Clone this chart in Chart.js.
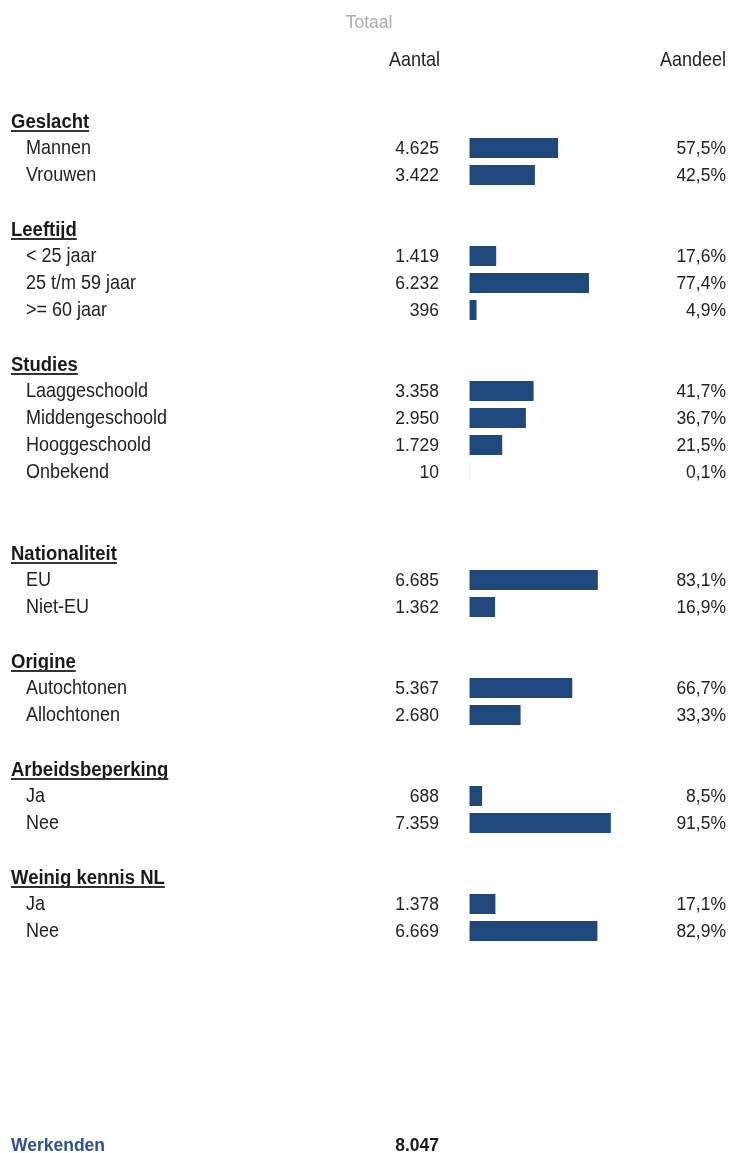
<!DOCTYPE html>
<html>
<head>
<meta charset="utf-8">
<script src="https://cdn.jsdelivr.net/npm/chart.js@4.4.1/dist/chart.umd.min.js"></script>
<style>
  html, body { margin: 0; padding: 0; background: #fff; }
  #wrap { width: 729px; height: 1153px; }
</style>
</head>
<body>
<div id="wrap"><canvas id="profiel" width="729" height="1153"></canvas></div>
<script>
// rows of the table, blank strings are spacer rows
var rowLabels = ['Geslacht', 'Mannen', 'Vrouwen', '',
  'Leeftijd', '< 25 jaar', '25 t/m 59 jaar', '>= 60 jaar', '',
  'Studies', 'Laaggeschoold', 'Middengeschoold', 'Hooggeschoold', 'Onbekend', '', '',
  'Nationaliteit', 'EU', 'Niet-EU', '',
  'Origine', 'Autochtonen', 'Allochtonen', '',
  'Arbeidsbeperking', 'Ja', 'Nee', '',
  'Weinig kennis NL', 'Ja', 'Nee'];
var counts = [null, 4625, 3422, null,
  null, 1419, 6232, 396, null,
  null, 3358, 2950, 1729, 10, null, null,
  null, 6685, 1362, null,
  null, 5367, 2680, null,
  null, 688, 7359, null,
  null, 1378, 6669];
var shares = [null, 57.5, 42.5, null,
  null, 17.6, 77.4, 4.9, null,
  null, 41.7, 36.7, 21.5, 0.1, null, null,
  null, 83.1, 16.9, null,
  null, 66.7, 33.3, null,
  null, 8.5, 91.5, null,
  null, 17.1, 82.9];
var columnTitle = 'Totaal';
var countHeader = 'Aantal';
var shareHeader = 'Aandeel';
var totalLabel = 'Werkenden';
var totalCount = 8047;

function fmtCount(n) {
    return String(n).replace(/\B(?=(\d{3})+(?!\d))/g, '.');
}
function fmtShare(p) {
    return p.toFixed(1).replace('.', ',') + '%';
}

var FONT = '"Liberation Sans", Arial, sans-serif';

// the source text is a bit taller than plain Arial
function tallText(ctx, txt, x, y) {
    ctx.save();
    ctx.translate(x, y + 1);
    ctx.scale(1, 1.08);
    ctx.fillText(txt, 0, 0);
    ctx.restore();
}

var tableText = {
    id: 'tableText',
    afterDatasetsDraw: function(chart) {
        var ctx = chart.ctx;
        var yScale = chart.scales.y;
        ctx.save();
        ctx.textBaseline = 'middle';

        // column headers
        ctx.font = '17.5px ' + FONT;
        ctx.fillStyle = '#ababab';
        ctx.textAlign = 'center';
        tallText(ctx, columnTitle, 369, 22);
        ctx.font = '18px ' + FONT;
        ctx.fillStyle = '#222';
        ctx.textAlign = 'right';
        tallText(ctx, countHeader, 440, 60);
        tallText(ctx, shareHeader, 726, 60);

        rowLabels.forEach(function(label, i) {
            if (!label) return;
            var y = yScale.getPixelForValue(i);
            if (counts[i] === null) {
                // section header, bold + underline
                ctx.font = 'bold 18.5px ' + FONT;
                ctx.fillStyle = '#1a1a1a';
                ctx.textAlign = 'left';
                tallText(ctx, label, 11, y);
                var w = ctx.measureText(label).width;
                ctx.fillStyle = '#333';
                ctx.fillRect(11, y + 9, w, 2);
            } else {
                ctx.font = '18px ' + FONT;
                ctx.fillStyle = '#222';
                ctx.textAlign = 'left';
                tallText(ctx, label, 26, y);
                ctx.font = '17.5px ' + FONT;
                ctx.textAlign = 'right';
                tallText(ctx, fmtCount(counts[i]), 439, y);
                tallText(ctx, fmtShare(shares[i]), 726, y);
            }
        });

        // total row at the bottom
        ctx.font = 'bold 17.5px ' + FONT;
        ctx.textAlign = 'left';
        ctx.fillStyle = '#30508f';
        tallText(ctx, totalLabel, 11, 1145);
        ctx.textAlign = 'right';
        ctx.fillStyle = '#1a1a1a';
        tallText(ctx, fmtCount(totalCount), 439, 1145);
        ctx.restore();
    }
};

var ctx = document.getElementById('profiel').getContext('2d');
var chart = new Chart(ctx, {
    type: 'bar',
    data: {
        labels: rowLabels,
        datasets: [{
            data: shares,
            backgroundColor: '#1f497d',
            borderColor: '#d6dde8',
            borderWidth: { left: 1, right: 0, top: 0, bottom: 0 },
            borderSkipped: false,
            barThickness: 20
        }]
    },
    options: {
        indexAxis: 'y',
        responsive: false,
        animation: false,
        layout: { padding: { left: 469, right: 105, top: 107.5, bottom: 208.5 } },
        scales: {
            x: { display: false, min: 0, max: 100 },
            y: { display: false, offset: true }
        },
        plugins: {
            legend: { display: false },
            tooltip: { enabled: false }
        }
    },
    plugins: [tableText]
});
</script>
</body>
</html>
